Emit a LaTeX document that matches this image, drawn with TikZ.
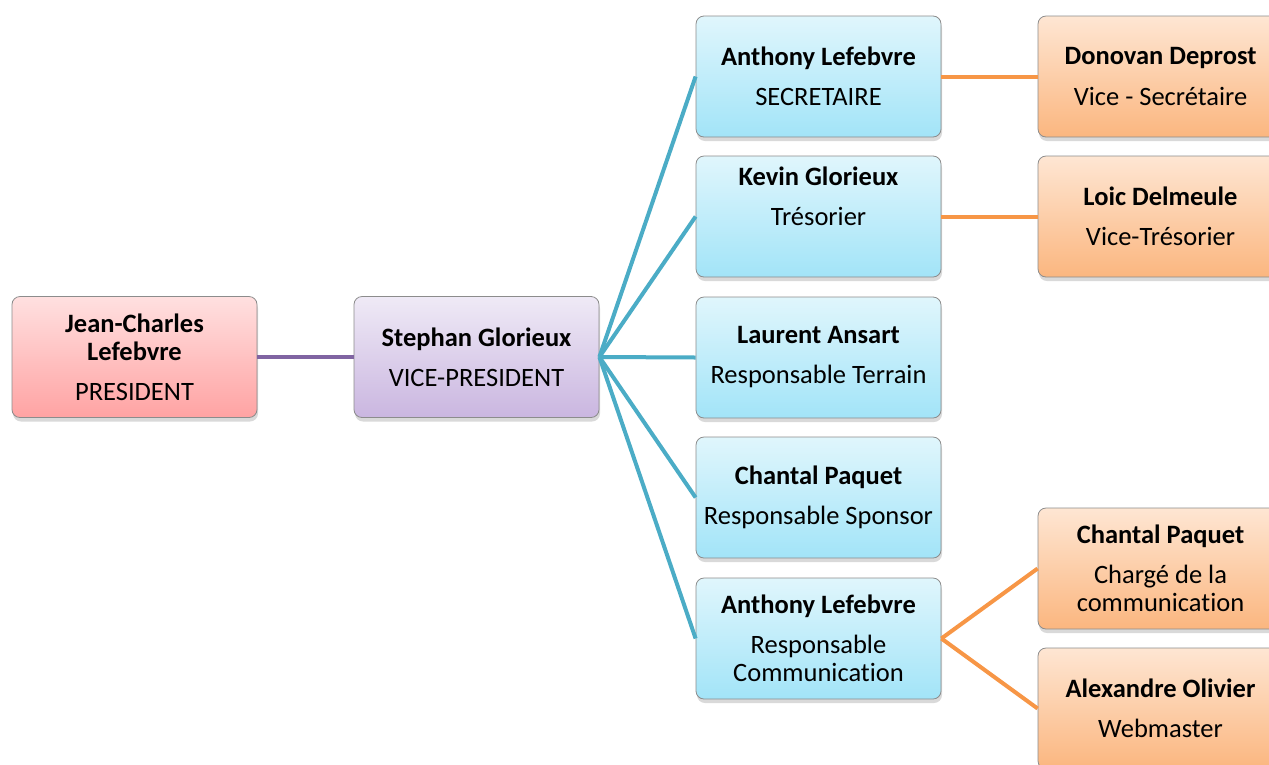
\documentclass[tikz,border=0pt]{standalone}
\usepackage{fontspec}
\setmainfont{Carlito}[Ligatures=NoCommon]
\usetikzlibrary{shadows}
\definecolor{linepurple}{HTML}{8064A2}
\definecolor{lineblue}{HTML}{4BACC6}
\definecolor{lineorange}{HTML}{F79646}
\definecolor{prestop}{HTML}{FFE0E0}
\definecolor{presbot}{HTML}{FFA3A3}
\definecolor{vicetop}{HTML}{EFEAF6}
\definecolor{vicebot}{HTML}{CAB6E0}
\definecolor{bluetop}{HTML}{E0F6FC}
\definecolor{bluebot}{HTML}{A2E4F8}
\definecolor{orangetop}{HTML}{FEE6D3}
\definecolor{orangebot}{HTML}{FBB67F}
\tikzset{
  box/.style={draw=black!45,line width=0.8pt,rounded corners=8pt,
    minimum width=245pt,minimum height=121pt,align=center,
    font=\fontsize{26.5}{28}\selectfont,
    drop shadow={opacity=0.3,shadow xshift=1pt,shadow yshift=-4pt}},
  presbox/.style={box,top color=prestop,bottom color=presbot},
  vicebox/.style={box,top color=vicetop,bottom color=vicebot},
  bluebox/.style={box,top color=bluetop,bottom color=bluebot},
  orangebox/.style={box,top color=orangetop,bottom color=orangebot},
  link/.style={line width=4pt}
}
\begin{document}
\begin{tikzpicture}[x=1pt,y=-1pt]
\useasboundingbox (0,0) rectangle (1269,764);
\node[presbox] (pres) at (134.5,357) {\textbf{Jean-Charles}\\\textbf{Lefebvre}\\[12pt]PRESIDENT};
\node[vicebox] (vice) at (476.5,357) {\textbf{Stephan Glorieux}\\[12pt]VICE-PRESIDENT};
\node[bluebox] (secr) at (818.5,76.5) {\textbf{Anthony Lefebvre}\\[12pt]SECRETAIRE};
\node[bluebox] (tres) at (818.5,216.5) {\textbf{Kevin Glorieux}\\[12pt]Trésorier\\[12pt]~};
\node[bluebox] (terr) at (818.5,357.5) {\textbf{Laurent Ansart}\\[12pt]Responsable Terrain};
\node[bluebox] (spon) at (818.5,497.5) {\textbf{Chantal Paquet}\\[12pt]Responsable Sponsor};
\node[bluebox] (comm) at (818.5,638.5) {\textbf{Anthony Lefebvre}\\[12pt]Responsable\\Communication};
\node[orangebox] (vsec) at (1160.5,76.5) {\textbf{Donovan Deprost}\\[12pt]Vice - Secrétaire};
\node[orangebox] (vtre) at (1160.5,216.5) {\textbf{Loic Delmeule}\\[12pt]Vice-Trésorier};
\node[orangebox] (chcom) at (1160.5,568.5) {\textbf{Chantal Paquet}\\[12pt]Chargé de la\\communication};
\node[orangebox] (webm) at (1160.5,708.5) {\textbf{Alexandre Olivier}\\[12pt]Webmaster};
\draw[link,linepurple] (pres.east) -- (vice.west);
\foreach \n in {secr,tres,terr,spon,comm}
  \draw[link,lineblue] (vice.east) -- (\n.west);
\draw[link,lineorange] (secr.east) -- (vsec.west);
\draw[link,lineorange] (tres.east) -- (vtre.west);
\draw[link,lineorange] (comm.east) -- (chcom.west);
\draw[link,lineorange] (comm.east) -- (webm.west);
\end{tikzpicture}
\end{document}
